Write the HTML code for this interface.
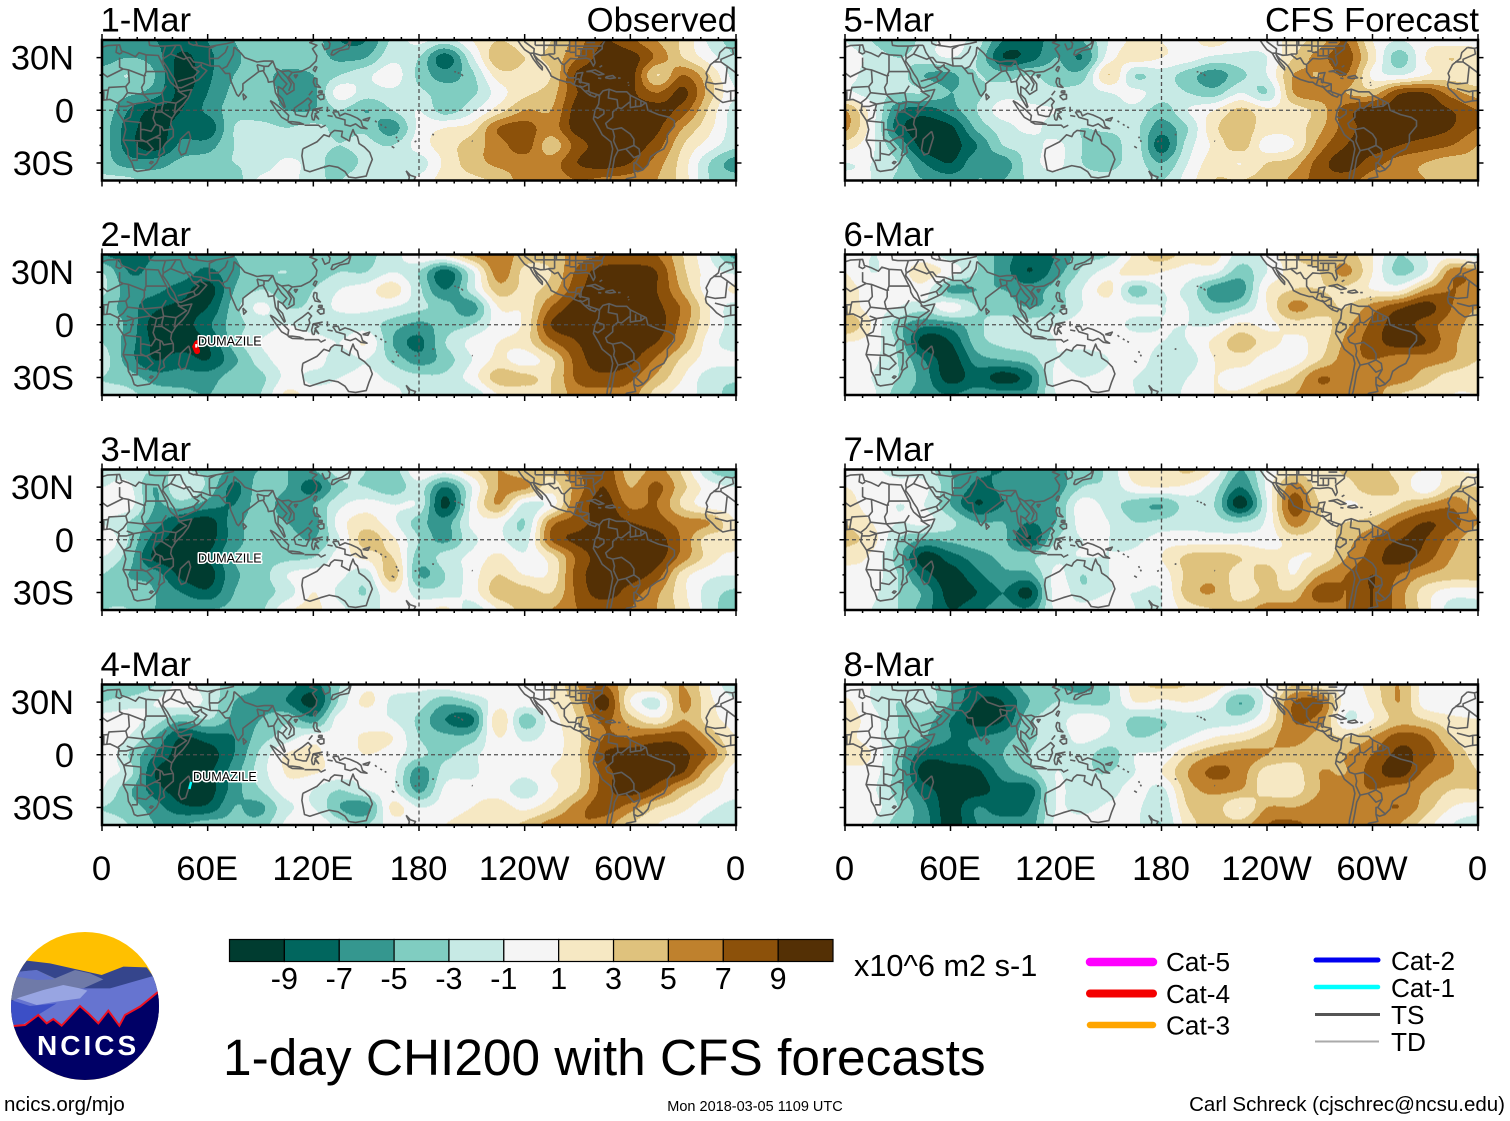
<!DOCTYPE html>
<html lang="en">
<head>
<meta charset="utf-8">
<title>1-day CHI200 with CFS forecasts</title>
<style>
html,body{margin:0;padding:0;background:#fff;width:1510px;height:1121px;overflow:hidden}
svg{display:block}
text{font-family:"Liberation Sans",sans-serif;fill:#000}
</style>
</head>
<body>
<svg id="chart" xmlns="http://www.w3.org/2000/svg" width="1510" height="1121" viewBox="0 0 1510 1121">
  <g id="panels"></g>
  <g id="colorbar"></g>
  <text x="854" y="976" font-size="30.7">x10^6 m2 s-1</text>
  <text x="223" y="1075" font-size="51.4">1-day CHI200 with CFS forecasts</text>

  <g>
    <clipPath id="logoClip"><circle cx="255" cy="258" r="222"/></clipPath>
    <g transform="translate(0 920) scale(0.33333)" clip-path="url(#logoClip)">
      <rect x="20" y="30" width="480" height="460" fill="#ffc000"/>
      <polygon points="80,122 150,130 230,148 305,165 370,140 440,142 490,210 490,330 20,330 20,200" fill="#35458c"/>
      <polygon points="60,155 110,150 165,175 225,150 270,160 310,178 250,205 160,205 60,240 20,240 20,200" fill="#6f7aa8"/>
      <polygon points="60,155 110,150 165,178 110,180 50,170" fill="#5f70c8"/>
      <polygon points="240,205 330,205 460,168 490,215 490,330 40,330 40,240 170,205" fill="#6674d0"/>
      <polygon points="50,235 130,210 190,195 240,205 262,212 240,235 170,245 110,255" fill="#98a5e2"/>
      <polygon points="25,238 90,258 170,250 70,312 25,322" fill="#3c4fc6"/>
      <polygon points="20,320 40,318 75,315 115,285 140,310 160,297 185,317 240,258 265,280 295,310 325,272 358,317 375,285 420,260 475,215 490,205 490,500 20,500" fill="#000066"/>
      <polyline points="40,318 75,315 115,285 140,310 160,297 185,317 240,258 265,280 295,310 325,272 358,317 375,285 420,260 475,215" fill="none" stroke="#ee1122" stroke-width="6"/>
    </g>
    <text x="37" y="1055" font-size="28" font-weight="bold" letter-spacing="3" style="fill:#fff">NCICS</text>
  </g>

  <a><text x="4" y="1111" font-size="20.5">ncics.org/mjo</text></a>
  <text x="755" y="1111" font-size="14.5" text-anchor="middle">Mon 2018-03-05 1109 UTC</text>
  <text x="1505" y="1111" font-size="20.5" text-anchor="end">Carl Schreck (cjschrec@ncsu.edu)</text>

  <g>
    <line x1="1090" x2="1153" y1="962" y2="962" stroke="#ff00ff" stroke-width="8.5" stroke-linecap="round"/>
    <text x="1166" y="971" font-size="26.2">Cat-5</text>
    <line x1="1090" x2="1153" y1="993.5" y2="993.5" stroke="#f40000" stroke-width="8" stroke-linecap="round"/>
    <text x="1166" y="1003" font-size="26.2">Cat-4</text>
    <line x1="1090" x2="1153" y1="1025" y2="1025" stroke="#ffa500" stroke-width="6.5" stroke-linecap="round"/>
    <text x="1166" y="1034.5" font-size="26.2">Cat-3</text>
    <line x1="1316" x2="1378" y1="960" y2="960" stroke="#0000f0" stroke-width="5" stroke-linecap="round"/>
    <text x="1391" y="970" font-size="26.2">Cat-2</text>
    <line x1="1316" x2="1378" y1="987" y2="987" stroke="#00ffff" stroke-width="4.5" stroke-linecap="round"/>
    <text x="1391" y="997" font-size="26.2">Cat-1</text>
    <line x1="1315" x2="1380" y1="1014.5" y2="1014.5" stroke="#555" stroke-width="3"/>
    <text x="1391" y="1024" font-size="26.2">TS</text>
    <line x1="1315" x2="1379" y1="1041.5" y2="1041.5" stroke="#aaa" stroke-width="2"/>
    <text x="1391" y="1051" font-size="26.2">TD</text>
  </g>
</svg>

<script>
// ---- Data ----
const gridLons = [0,15,30,45,60,75,90,105,120,135,150,165,180,195,210,225,240,255,270,285,300,315,330,345,360];
const gridLats = [40,30,20,10,0,-10,-20,-30,-40];
const contourLevels = [-9,-7,-5,-3,-1,1,3,5,7,9];
const bandColors = ['#003c30','#01665e','#35978f','#80cdc1','#c7eae5','#f5f5f5','#f6e8c3','#dfc27d','#bf812d','#8c510a','#543005'];
const lonTickValues = [0,60,120,180,240,300,360];
const lonTickLabels = ['0','60E','120E','180','120W','60W','0'];
const latTickValues = [30,0,-30];
const latTickLabels = ['30N','0','30S'];
const panelDates = ['1-Mar','2-Mar','3-Mar','4-Mar','5-Mar','6-Mar','7-Mar','8-Mar'];

const chiMar1 = [
[-6,-7,-7,-8,-7,-5,-4,-4,-4,-7,-7,-2.5,-0.5,-2,1,3,2,3,6,9,7.5,5,2.5,-1.5,-4],
[-6,-5,-6,-9.5,-7.5,-5.5,-4,-4,-4,-5.5,-5,-1.5,-3,-8,-1.5,4.5,3,3.5,7,10,10,6.5,3,0,-3],
[-4,-3,-5,-10,-7.5,-5,-4.5,-5.5,-5,-3,-1.5,0,-3.5,-6,-3.5,2,2.5,3,9.5,10,10,3,7,3,-2],
[-4,-4.5,-6,-9.5,-7,-4.5,-4,-5.5,-5.5,0,-2,-1.5,-2.5,-4,-3.5,0,2.5,4,9,10,9.5,7,9.5,4,-1],
[-3.5,-7,-9.5,-9,-6.5,-4,-4,-5,-5,-3,-5,-3,-1,-4,-1.5,2,5,5,10,10,10,10,8,2.5,-2],
[-4,-8,-10,-8,-8.5,-3,-2.5,-3,-2.5,-3.5,-3.5,-6,-0.5,1,2,7,8,6,10,10,10,9.5,5,1.5,-2],
[-4,-8,-10,-6.5,-6,-3,-2.5,-2.5,-2.5,-3,-2.5,-3,0,2,4,6,8,4,8,10,10,8,3,0,-2.5],
[-4,-6,-6,-4.5,-4,-3,-2.5,-0.5,-2,-4,-2.5,-2,-2,1.5,4,5.5,6,6,9,10,9,6,2,-3,-6],
[-2.5,-2.5,-4,-4,-4,-4,-0.5,0,-2.5,-3,-1.5,-2,-0.5,2,2.5,3.5,6,6,7,6.5,6,5,2,-3,-4]
];
const chiMar2 = [
[-7,-8,-7,-7,-6,-5,-4,-4,-4,-4,-3.5,-2,1,1.5,5,6.5,4,4,6,7,7.5,7,3,-1,-6],
[-3,-7,-6.5,-6,-7.5,-5.5,-3.5,-3,-4,-3,-3,-1,-3,-8,-1.5,6,2.5,3,7.5,10,10,9,3.5,0,-1.5],
[-2.5,-6,-6.5,-8,-10,-5,-3,-4,-3,-1,0,2,-2.5,-7,-2,4,2.5,4,8.5,10,10,9,4.5,0,1.5],
[-4,-6,-8.5,-9.5,-9,-4,-0.5,-3,-2.5,-0.5,-0.5,-1,-2.5,-4,-6,1,1.5,7,10,10,10,9.5,6.5,1,-2],
[-4,-5.5,-10,-10,-7.5,-4,-2,-1,-2,-2.5,-2,-4,-5.5,-4,-3,0,1.5,9,10,10,10,10,6,1,-2],
[-3,-6,-9.5,-10,-9,-4,-1,0,0,-1,1,-5,-7.5,-3,-0.5,1,2,6.5,9,10,10,9,5,0,-2],
[-2,-6,-9,-8,-9,-5.5,-2,0,0,-2,-1,-3.5,-6,-4,-1,1.5,0,2.5,8,10,9.5,6.5,2.5,0,-0.5],
[-3,-4,-6,-6,-6,-4,-3.5,-0.5,-1.5,-1,-0.5,-1.5,-2.5,-2.5,0,4,3.5,3,7.5,8.5,7.5,4.5,1,-2,-2.5],
[-2.5,-2.5,-4,-4.5,-5,-4,-3,1.5,0,-0.5,-1,-0.5,-2,-2,-2.5,1,2,3,6,6,6,2,0,-2,-4]
];
const chiMar3 = [
[-2,-2,-3,-3,-3.5,-5.5,-5,-5,-5,-2,-3,-4,1,0,2.5,5,3.5,3.5,7,8.5,4,5.5,2.5,-3,-5],
[-1,-0.5,-5,-1,-3.5,-7.5,-4,-5,-8,-3.5,-3,-4.5,-2,-7,-1,5,5.5,2,6,9,5,7.5,3.5,0,-1],
[1,0,-5,-4,-6,-7,-4,-6,-5,-1.5,0,-1,-1.5,-9.5,-0.5,5,-1.5,0,7,10,6.5,7,2.5,0,0],
[-1,-3,-6,-9,-10,-6,-4,-5,-6,0,2,-0.5,-4,-6,-0.5,0,-3,6,8,10,9,8,6,5,1],
[1,-3,-8,-10,-10,-6,-4,-4,-5,-1,4,1.5,-3,-5.5,-1.5,-0.5,-2,7,9.5,10,10,10,6.5,2,3],
[-1,-4,-9.5,-10,-9,-5,-4,-3.5,-3,0,1.5,3,-4,-2,-0.5,1.5,-0.5,2,7.5,10,10,10,6,2,0],
[-3,-5,-6,-9.5,-10,-5.5,-4,-1,0,-0.5,-2,4,-5,-3,0,3,1,1.5,8,10,10,8,2,-0.5,-1],
[-3.5,-4,-5,-7,-8.5,-5,-4,-2,1,-1.5,-3,1,-2,-2,0,4,4,3,7.5,10,8,5.5,1.5,-2,-3.5],
[-3,-3,-5,-5,-5,-4.5,-3.5,0.5,1.5,-0.5,-2,0,0,1.5,-2,1,4,5,7,7.5,7,5,2,-2,-4.5]
];
const chiMar4 = [
[-3,-5,-3,-0.5,-2,-4,-5,-6,-8,-3,0.5,0,-0.5,0,1,0.5,0,1,5,7,3,3,5,1,-3],
[-3,-2,-1,0,-1.5,-5,-5.5,-7,-9.5,-2.5,1.5,-1.5,-2,-4.5,-3,0,0,1,4,10,1,-1.5,5.5,1.5,-0.5],
[0,0,-2,-4.5,-3,-5.5,-5,-3.5,-6,0,-0.5,-1,-3.5,-7,-7.5,2.5,-4,0,3,7.5,4,1.5,5,2,0],
[0,-1,-5,-9,-8,-7,-4,-2,0,-0.5,1.5,1,-3,-4.5,-4,1,-1.5,0,2.5,7,7,8,8,4.5,1],
[1,-3,-7,-10,-10,-7,-2.5,1.2,1.5,0,1,0,-2.5,-3.5,-1.5,0,0,0.5,2.5,9,10,10,9.5,6.5,1.5],
[-0.5,-2,-9,-10,-9.5,-6,-2,1.2,1.2,0,-0.5,-0.5,-6,-2,-1.5,0.5,-0.5,1,2.5,8,10,10,9,3.5,0],
[-1,-4.5,-8,-10,-10,-6,-3,0,-1,-3,-1,-0.5,-5.5,-0.5,0,0,-2,0.5,3,8,10,8,4,1.5,0],
[-3,-4,-6,-8.5,-8.5,-5,-5.5,-1.5,-1,-5,-6,1.5,-1,0,1,2,0.5,2.5,6,8,6,3,1.5,-0.5,-2],
[-2,-3,-5,-5,-4,-4.5,-4,-0.5,1,-2,-3,0,0,1,2,2,3.5,6,7,6,3,1,0,-2,-3]
];
const chiMar5 = [
[-1,-3,-5,-2,-0.5,-2,-7,-8,-6,-5,-1,1.5,1,0.5,2,0,0,2,4,7,1,-1,0.5,0,1],
[0,-1.5,-3,-2,-1,-3,-9,-8,-5,-7,0,2,1,0,-1.5,-1.5,-1,3,6,8,2,-4,1,3,1],
[0,-2,-2,-5,-5.5,-3,-4,-3,-4,-4,3,-3,-2,-4,-6,-3.5,-1,5,5,7,0.5,-1,1,2,1.5],
[-0.5,-2,-3,-3,-5,-3.5,-2,-2,-2.5,-2,-1,-0.5,-2,-3,-4,-1,-3,5,6,5,4,8.5,9,6,4],
[5,0,-6.5,-8,-6,-3,0,-0.5,-1,-2,-2,-1.5,-4,-1,1,3.5,1.5,2,4,8,10,9.5,10,9,7],
[5.5,0,-8,-10,-9.5,-4.5,-2,-0.5,-2,-3,-2.5,-2.5,-6,-3,2.5,4,2,2,4.5,8,10,10,10,9,7],
[2,-0.5,-5,-10,-10,-7,-3,-2,-0.5,-3,-4.5,-2,-8,-2,1.5,4,0,1,6,9,10,9,8,7,5],
[-1,-1,-3,-7,-9,-5.5,-6,-2,-0.5,-3,-4,-2,-5,-1,2,1,3,4,8,10,8,6,5,4,4.5],
[-0.5,-1,-3.5,-5,-6,-5,-5,-2.5,-1.5,-2,-2,-1,-3,0,3,3,4,5.5,8,8,6,5.5,5,4,4]
];
const chiMar6 = [
[0,-1,-0.5,0,-2,-3,-6,-8,-7,-4,-3,1.5,4,2,2,-2,-0.5,3,4,4,1,-3,-1,0,-2],
[1,-1,0,2,0,-3,-6,-9,-6,-2.5,0,2,1,0,-0.5,-4,-1,2,3,5.5,1,-3.5,-1,6,6],
[2,0,-0.5,0,-5.5,-5,-5,-6,-4,-1,1.5,-4,-1,-1.5,-6,-6,1,3,3,2.5,1,0.5,5,7,6],
[2.5,0,-1,-2,0,-3,-4,-5,-4,-1,0,-0.5,-1,-1,-4,-3,1,5.5,4,3,6,8.5,10,7,5],
[5,1,-4,-6.5,-6,-3.5,-2,-2,-1,0,0,-1.5,-1,-1,-1,1.5,0.5,2,2,4.5,7.5,10,8,6,4],
[1,0,-3.5,-10,-9,-4,-2.5,-2,-1,0,0,0,-1,-1,1.5,4,2,0.5,2,5.5,8,10,9,5.5,4],
[-0.5,-0.5,-3,-7,-10,-6,-5,-4,-1,-2.5,-1,0,-2,-2,1,2,0,0,3,6,7,6,6,5,3],
[-0.5,-1,-3,-6,-10,-8,-10,-7.5,-0.5,-1,-0.5,-1,-2,-1,1,0,1,3,7,6,5.5,6,4,2,1.5],
[0,-0.5,-4,-6,-7,-6,-6,-6,-1,0,0,-1,-2,-0.5,1,1.5,4,5,6,6,6,3,2,1,1]
];
const chiMar7 = [
[-0.5,-0.5,-2,-2,-5,-6.5,-7,-5,-5.5,-4,-2.5,2,1.5,3.5,0.5,-5,-0.5,2,2,3.5,4.5,2,1,1,0.5],
[1,0,0,-0.5,-4.5,-7.5,-6.5,-6,-6,-3,-2.5,0.5,1,0.5,-2,-7,-0.5,6,2,2,4.5,3,-0.5,3,3],
[2,0,-1,-1,-5,-9,-7,-6,-5,0,-2,-4,-5,-2,-3,-10,-1,8,3,1,1.5,3,5,6.5,4],
[3,1,-1,-0.5,-2.5,-5,-5,-7,-5,0,-1,-3,-2.5,-1.5,-2,-3,-0.5,6,3,3,4,7,9,8,5],
[3.5,2,-3,-5,-4.5,-4,-4.5,-9,-3,-1,-1,-1.5,0,0,0,0,0,2,2,4,7,9,9,6,3.5],
[2,0.5,-4,-10,-8,-6,-4.5,-3.5,-1.5,-1,-1,-0.5,1,3.5,4,3,2,1,1.5,5,8,10,8,5,4],
[0,0,-3,-8,-10,-7.5,-5.5,-5.5,-0.5,-3,-1,0,0,3.5,4.5,2,4,1,5,7,9,7,5,4,4],
[-0.5,-0.5,-3,-5.5,-10,-9,-7,-9.5,0,-2.5,-1,-1,-1,4,5,2,3.5,3.5,8,7,9,6,2,0,0],
[0,-1,-3,-6,-9,-7.5,-6,-6.5,-0.5,0,1,-1,-1,2,3,4,6,6,6,7,9,6,2,-2,-2]
];
const chiMar8 = [
[-0.5,-1,-2,-2,-5,-8,-7,-4,-5,-6,-3,2,3.5,3,2,0,-0.5,3,2,0,2,5,0,-0.5,-0.5],
[1.5,-1,-3,-2,-5,-9,-9,-5,-3,-3.5,-3,1,0.5,1,-0.5,-5,0,7,7.5,0,1.5,5,0,-0.5,0],
[2,0,-3,-4,-7,-10,-9,-3.5,-2,0,-1,-3.5,-3,-2,-2,-2,1,7,6,-1,1,4,3,1.5,1],
[1.5,0,-3,-5,-7,-7,-6,-3.5,-2,-0.5,-1.5,-3,-2.5,-1,1,2,4,6,4,3,5,8,7,3,1],
[2,1,-4,-8,-8,-7,-5,-3,-1.5,-2,-4,-1,-0.5,3,5,6,5,4,4,5,7,9.5,8,5,2],
[0.5,0,-4,-10,-10,-9.5,-6,-4,-1,-2.5,-3,-1,1,5,7.5,6,2,2,5,5,8,10,6.5,5,3],
[0.5,-0.5,-4,-8,-10,-10,-8,-8,-1,-2.5,-2,0,-1.5,4,5.5,5,2,2,5,6,7,6,5,3,3],
[1,0,-3,-6.5,-10,-7,-8,-7,-1,-2,-0.5,-0.5,-2.5,3,4,1,5,5,6,6,6,7,4,1,0],
[0.5,-1,-4,-6,-10,-7,-6,-6,-0.5,0.5,1,-0.5,-3,2,4,4,7,7.5,6,5,7,5,2,-1,-2]
];
const panelGrids = [chiMar1,chiMar2,chiMar3,chiMar4,chiMar5,chiMar6,chiMar7,chiMar8];

// Coastlines, lon/lat degrees
const coastLines = [
[[-6,35.8],[-2,35.2],[3,36.8],[10,37.2],[11,33.8],[15,32.4],[19,30.5],[21,32.8],[25,31.6],[32,31.2],[32.6,29.8],[34,27],[35.5,24],[37,21],[37.5,18.5],[39,15.8],[43,12.4],[44,10.5],[51,11.8],[49,7],[46,3],[42,-1],[39.5,-5],[39,-8],[40.5,-11],[40.5,-15],[36,-19],[34.8,-21],[35.5,-24],[32.8,-26],[31,-30],[27,-33.8],[20,-34.8],[18.3,-34],[17,-30],[15,-26.5],[14.5,-22],[12,-17],[13.5,-11],[12.3,-6],[9,-1],[9.7,3.5],[8,4.5],[4.5,6.2],[1,5.8],[-4,5.2],[-7.5,4.4],[-11,6.8],[-13.5,9.5],[-16.8,12.5],[-17.3,14.7],[-16.2,19],[-17,21],[-14.5,26],[-10,29.5],[-9.2,32.8],[-6,35.8]],
[[49.3,-12],[50.3,-15.5],[47.5,-24.5],[45,-25.5],[43.5,-22.5],[44.5,-16.5],[49.3,-12]],
[[34.8,29.5],[34.5,28],[37,24.5],[39,21],[41,18],[43,13],[45,12.8],[52,16],[55,17.5],[59.5,22.5],[56.5,24.5],[56.3,26],[54,24.2],[51.5,24.5],[50,27],[48,29.8],[48.5,30],[50,30],[52,27.5],[56.5,27],[61.5,25.2],[66.5,25.2],[68,23.5],[70,21],[72.5,21],[73,17],[74.8,13],[76.5,9],[77.5,8],[80,11.5],[80,15],[82.5,17],[86.5,20],[89,22],[91.5,22.5],[94,18],[94.5,16],[97.5,16.5],[98.5,10],[100.5,6.5],[103.5,1.5],[104,2],[102.5,6.5],[100,9],[100,13.5],[102.5,12],[105,9],[109,11.5],[109,15],[106,19],[108,21.5],[113,22],[118,24.5],[121.5,28],[122,31],[119.5,35],[122,37],[118,38.5],[121,40]],
[[34.8,29.5],[34.5,31.5],[36,36.5],[30,36.5],[27,37],[26.5,40]],
[[49,40],[49.5,38],[52,37],[54,37.5],[53,40]],
[[125,38],[126.5,34.5],[129,35.5],[129.5,38],[128,40]],
[[130,31.5],[131,34],[136,35.5],[140,38],[141,41]],
[[130,31.5],[131.5,31.5],[135,34],[140,35],[141,38],[141.5,41]],
[[121,25],[120,23],[121,22],[122,24.5],[121,25]],
[[109,20],[111,20],[110,18.5],[109,20]],
[[80,9.5],[82,7.5],[80.5,6],[80,9.5]],
[[120.5,18.5],[122,18],[122,15],[124,13],[121,13.5],[120,16],[120.5,18.5]],
[[122,8],[124,9],[126,9],[126,6.5],[124,6],[122,8]],
[[123,11],[125,11],[125,10],[123,10],[123,11]],
[[117.5,8.5],[119.5,11]],
[[109,1],[111,2.5],[114,4.5],[117,7],[119,5],[117.5,3],[118,1],[116,-3.5],[114,-3.5],[110,-2.5],[109,1]],
[[95.5,5.5],[98,4],[103,0],[106,-3],[105.5,-6],[102,-4],[99,0],[95.5,5.5]],
[[105.5,-6.5],[108,-6.5],[112,-7],[114.5,-8],[108,-7.8],[105.5,-6.5]],
[[115,-8.5],[119,-8.5],[123,-8.5],[124,-9.5]],
[[124,-10],[127,-8.5]],
[[119.5,-5.5],[119,-3],[120,0.5],[125,1.5],[121,0],[123,-1],[121,-2],[123,-5],[121,-3],[120.5,-5.5],[119.5,-5.5]],
[[128,2],[128,-1]],
[[128,-3],[131,-3.5]],
[[131,-1],[134,-0.8],[135,-3.2],[138,-1.8],[141,-2.7],[145,-4.5],[147,-6],[148,-9],[150.5,-10.5],[147,-10],[144,-7.8],[141,-9],[138,-8.2],[138,-5.5],[133,-4],[132,-2.5],[131,-1]],
[[148,-5.5],[152,-4.2],[151,-6],[148,-5.5]],
[[155,-6],[156,-6.8]],[[158,-8],[159,-8.6]],[[160.5,-9.5],[161.5,-10]],
[[167,-15],[167.5,-16]],[[168,-17],[168.5,-18]],
[[164.5,-20.5],[166,-21.5]],
[[177.5,-18],[178.5,-17.5]],
[[172.7,-34.5],[175,-37],[178,-38],[177,-40],[176,-41]],
[[172.7,-34.5],[174.5,-38],[174,-41]],
[[114,-22],[113.5,-26],[115,-34],[118,-35],[124,-33],[129,-31.5],[134,-32.5],[138,-35],[140,-38],[144,-38.5],[150,-37.5],[151.5,-33],[153.5,-28],[152,-24],[149,-21],[146,-19],[145,-15],[143.5,-13.5],[142.5,-11],[141,-15],[140.5,-17.5],[136,-15],[136.5,-12],[132,-11.5],[130,-13],[129,-15],[126,-14],[122,-18],[117,-20.5],[114,-22]],
[[-160,22],[-159,21.8]],[[-158,21.4],[-157,21]],[[-156,20.6],[-155,19.5]],
[[-172.5,-13.7],[-171.5,-14]],[[-150,-17.5],[-149.5,-17.7]],
[[-124,40],[-122,37],[-120,34.5],[-117,32.5],[-115,29],[-112,25],[-110,23],[-110,24.5],[-113,28],[-114.8,31.7],[-112.5,29],[-110,27],[-108,25],[-105.5,21],[-105,19.5],[-101,17.5],[-96,16],[-94,16],[-92,14.5],[-88,13],[-85.5,10.5],[-83,8.5],[-80,7.5],[-79,9],[-77.5,8],[-78,3.5],[-80,0],[-81,-5],[-78,-10],[-76,-14],[-71,-18],[-70,-22],[-71.5,-30],[-73,-37],[-73.5,-41]],
[[-77.5,8.5],[-75.5,11],[-72,12],[-68,10.5],[-62,10.5],[-60,8.5],[-55,6],[-51,4],[-50,0],[-44,-2.5],[-38,-4],[-35,-6],[-35,-9],[-39,-14],[-39,-18],[-41,-22],[-45,-24],[-48.5,-26.5],[-50,-31],[-53,-34],[-56,-35],[-58,-34],[-57,-38],[-62,-39],[-64,-41]],
[[-77.5,8.5],[-80,9.3],[-83.5,10.5],[-83.5,15],[-88,16],[-88,18.5],[-87,21.5],[-90.5,21],[-91,18.5],[-95,18.5],[-97.5,22],[-97.5,26],[-94,29.5],[-90,29.2],[-85,29.7],[-83,29],[-81,25.2],[-80,27],[-81,31],[-76,35],[-76,37],[-74,40.5]],
[[-85,22],[-80,23],[-75,20.5],[-78,20],[-82,22],[-85,22]],
[[-74,19],[-70,19.8],[-68.5,18.5],[-71.5,18],[-74,18.5],[-74,19]],
[[-78.3,18.3],[-76.5,18]],[[-67,18.3],[-65.5,18.3]],[[-61.5,16],[-61,15.5]],[[-61,14.5],[-60.8,14]],[[-77.5,24.5],[-76,25.5]]
];
const borderLines = [
[[25,31.6],[25,22]],[[25,22],[37,22]],[[25,20],[24,19.5],[15,23],[12,23.5]],[[25,22],[24,19.5],[24,15.7]],[[24,15.7],[22.5,13],[23.5,9]],
[[15,23],[15.5,16],[13.5,13.5],[4,13],[3.5,11.5]],[[12,23.5],[3,19],[-5,25],[-8.5,27.5],[-13,27.6]],[[-5,25],[-6,15.5],[-12,15],[-16.5,16]],
[[13.5,13.5],[14.5,10],[12,6.5],[9,4.2]],[[3.5,11.5],[2.7,6.3]],[[-12,12.3],[-5,10.5],[-3,11],[3.5,11.5]],[[-3,11],[-3,5]],[[1,11],[1,6]],
[[14,5],[18,3.5],[27,5],[31,3.5],[30,-1],[29,-4.5],[30.5,-8]],[[14.5,10],[23.5,9],[27.5,5]],[[36.5,14],[34,10],[35,5],[42,4],[48,8],[43,11]],[[23.5,9],[34,10]],
[[35,5],[34,1],[34,-1],[39.5,-4.5]],[[31,3.5],[35,4.5]],[[30,-1],[34,-1]],[[30.5,-8],[34,-9.5],[35,-11.5],[40.5,-10.5]],[[42,4],[41,-1.5]],
[[9.7,2.2],[14,2.2],[18,3.5],[16,-4],[12.3,-6]],[[12.3,-6],[22,-7],[22,-11],[24,-11],[28,-12],[30.5,-8]],[[12,-17],[23.5,-17.5],[25,-18]],
[[22,-11],[22,-16.5],[25,-18],[30,-15.5],[33,-14],[33,-9.5]],[[30,-15.5],[33,-16],[33,-22],[32,-26]],[[20,-18],[20,-24.5],[25,-25.5],[29,-22],[25.5,-18]],
[[20,-24.5],[20,-28.5],[17,-28.5]],[[28,-29],[29,-29.5],[28,-30.5],[27,-30],[28,-29]],[[-2,35],[-1.5,32],[-8.5,29],[-8.5,27.5]],[[8.5,37],[8,33],[10,32],[11.5,33]],[[10,30],[10,24.5],[12,23.5]],
[[48,30],[46,33],[44.5,37]],[[36,36.5],[42,37],[44.5,37]],[[39,32],[42,37]],[[35,29.5],[39,32],[46.5,29],[48,29.8]],[[43,16.5],[52,19],[55,22],[52,24]],[[52,19],[53,16.8]],
[[61.5,25.2],[61,29.5],[61,35],[65,37],[71,38]],[[61,29.5],[66,29.5],[70,33],[71.5,36.5]],[[68,23.5],[71,25],[74.5,31.5],[75,36]],[[75,36],[79,32.5],[81,30],[88,27.5],[92,28],[97,28]],
[[88,26],[89,22]],[[92,22.5],[92,25],[88,26]],[[92,25],[94.5,25],[97,28],[98.5,24],[100,21],[97.5,16.5]],[[100,21],[102,18],[105,15],[102.5,12]],[[102,22],[105,19],[107.5,15],[106,11]],[[98.5,24],[102,22],[106,22.5],[108,21.5]],[[53,37],[60,36],[65,37],[71,38],[75,39]],
[[-117,32.5],[-114.8,32.5],[-111,31.3],[-108,31.5],[-106.5,31.8],[-103,29],[-101,29.8],[-99,26.5],[-97.5,26]],
[[-120,42],[-120,39],[-114.6,35],[-114.8,32.5]],[[-114,42],[-114,37]],[[-109,41],[-109,31.5]],[[-103,41],[-103,32]],[[-102,40],[-102,37]],[[-94.5,40],[-94.5,33.5]],[[-91,40],[-91,31]],[[-88,35],[-88,30.5]],[[-85,35],[-85,31]],[[-81,35],[-81,32]],
[[-114,37],[-94.6,37]],[[-94.6,36.5],[-76,36.5]],[[-103,32],[-106.5,32]],[[-94.5,33],[-91,33]],[[-91.5,31],[-85,31]],[[-90,35],[-81,35]],[[-109,40],[-75,40]],[[-85,38.5],[-80,38.5]],[[-97,33.8],[-94.5,33.6]],
[[-92,14.5],[-91,17.5],[-89,18]],[[-89,18],[-89,16],[-88,15.5]],[[-89,14],[-87,13]],[[-87,13.2],[-83.5,15]],[[-85.5,11],[-83.5,11]],[[-83,8.5],[-82.5,9.5]],
[[-72,12],[-72.5,7],[-67.5,6],[-67,1.5]],[[-67,1.5],[-70,-1],[-70,-4],[-74,-7.5],[-73,-10],[-70,-11],[-69,-15],[-69.5,-17.5]],[[-79,1.5],[-75,0],[-75,-2],[-78.5,-4.5],[-80.5,-3.5]],
[[-60,8.5],[-60,5],[-65,1],[-67,1.5]],[[-60,5],[-60,1.5],[-57,2],[-54,2.3],[-51.5,4.2]],[[-57,2],[-57,6]],[[-54,2.3],[-54,5.8]],
[[-70,-11],[-65,-10],[-60,-13.5],[-58,-16.5],[-58,-20],[-62.5,-22],[-67,-23],[-69.5,-17.5]],[[-58,-20],[-55,-22],[-54.5,-25.5],[-58,-27],[-62.5,-22]],[[-67,-23],[-69,-27],[-70,-33],[-71,-38],[-72,-41]],[[-58,-34],[-58,-30],[-57,-30],[-53,-33.5]],[[-54.5,-25.5],[-57,-30]]
];

// Named storm annotations: panel index, label anchor
const stormNames = ['DUMAZILE','DUMAZILE','DUMAZILE'];
const stormPanels = [1,2,3];
const stormLabelLons = [54.5,54.5,51.7];
const stormLabelLats = [-11.7,-12.9,-15];

// ---- Layout ----
const SVGNS = 'http://www.w3.org/2000/svg';
const colX = [102,845];
const colW = [634,633];
const rowY = [40,254.5,469.5,684.5];
const panelH = 140.5;
const latTop = 40, latBottom = -40;

function el(tag, parent){
  const e = document.createElementNS(SVGNS, tag);
  parent.appendChild(e);
  return e;
}
function xScale(x0,w){ return lon => x0 + lon/360*w; }
function yScale(y0,h){ return lat => y0 + (latTop-lat)/(latTop-latBottom)*h; }

function cr(p0,p1,p2,p3,t){
  return 0.5*((2*p1)+(-p0+p2)*t+(2*p0-5*p1+4*p2-p3)*t*t+(-p0+3*p1-3*p2+p3)*t*t*t);
}
function fieldAt(grid,lon,lat){
  const dLon = gridLons[1]-gridLons[0], dLat = gridLats[0]-gridLats[1];
  const nC = gridLons.length, nR = gridLats.length;
  const fx = Math.min(Math.max((lon-gridLons[0])/dLon,0),nC-1.0001);
  const fy = Math.min(Math.max((gridLats[0]-lat)/dLat,0),nR-1.0001);
  const ci = Math.floor(fx), ri = Math.floor(fy);
  const tx = fx-ci, ty = fy-ri;
  const col = []; 
  for(let k=-1;k<=2;k++){
    const r = grid[Math.min(Math.max(ri+k,0),nR-1)];
    col.push(cr(r[Math.max(ci-1,0)],r[ci],r[Math.min(ci+1,nC-1)],r[Math.min(ci+2,nC-1)],tx));
  }
  return cr(col[0],col[1],col[2],col[3],ty);
}
function bandOf(v){
  let b = 0;
  while(b<contourLevels.length && v>=contourLevels[b]) b++;
  return b;
}
function polyD(lines,x,y,shift){
  let d = '';
  for(const line of lines){
    line.forEach((p,i)=>{
      d += (i?'L':'M')+x(p[0]+shift).toFixed(1)+' '+y(p[1]).toFixed(1);
    });
  }
  return d;
}

const panelsRoot = document.getElementById('panels');
panelGrids.forEach((grid,pi)=>{
  const col = pi<4?0:1, row = pi%4;
  const x0 = colX[col], w = colW[col], y0 = rowY[row], h = panelH;
  const x = xScale(x0,w), y = yScale(y0,h);

  const g = el('g',panelsRoot);
  
  

  // filled contours as pixel runs per band
  const ds = bandColors.map(()=>[]);
  const W = Math.round(w), H = Math.round(h);
  for(let j=0;j<H;j++){
    const lat = latTop-(j+0.5)/h*(latTop-latBottom);
    let start = 0, cur = -1;
    for(let i=0;i<=W;i++){
      const b = i<W ? bandOf(fieldAt(grid,(i+0.5)/w*360,lat)) : -2;
      if(b!==cur){
        if(cur>=0) ds[cur].push('M'+(x0+start)+' '+(y0+j)+'h'+(i-start)+'v1h'+(start-i)+'z');
        cur = b; start = i;
      }
    }
  }
  ds.forEach((parts,b)=>{
    if(!parts.length) return;
    const p = el('path',g);
    p.setAttribute('d',parts.join(''));
    p.setAttribute('fill',bandColors[b]);
    p.setAttribute('shape-rendering','crispEdges');
    
    
  });

  // map, clipped to panel
  const clip = el('svg',g);
  clip.setAttribute('x',x0); clip.setAttribute('y',y0);
  clip.setAttribute('width',w); clip.setAttribute('height',h);
  clip.setAttribute('viewBox',x0+' '+y0+' '+w+' '+h);
  
  
  const mapD = polyD(coastLines.concat(borderLines),x,y,0)+polyD(coastLines.concat(borderLines),x,y,360);
  const map = el('path',clip);
  map.setAttribute('d',mapD);
  map.setAttribute('fill','none');
  map.setAttribute('stroke','#5e5e5e');
  map.setAttribute('stroke-width','1.6');
  map.setAttribute('stroke-linejoin','round');
  
  

  // reference lines
  const eq = el('line',g);
  eq.setAttribute('x1',x0); eq.setAttribute('x2',x0+w);
  eq.setAttribute('y1',y(0)); eq.setAttribute('y2',y(0));
  eq.setAttribute('stroke','#505050'); eq.setAttribute('stroke-width','1.3');
  eq.setAttribute('stroke-dasharray','4 3');
  
  
  const dl = el('line',g);
  dl.setAttribute('x1',x(180)); dl.setAttribute('x2',x(180));
  dl.setAttribute('y1',y0); dl.setAttribute('y2',y0+h);
  dl.setAttribute('stroke','#505050'); dl.setAttribute('stroke-width','1.3');
  dl.setAttribute('stroke-dasharray','4 3');
  
  

  // frame
  const fr = el('rect',g);
  fr.setAttribute('x',x0); fr.setAttribute('y',y0);
  fr.setAttribute('width',w); fr.setAttribute('height',h);
  fr.setAttribute('fill','none'); fr.setAttribute('stroke','#000'); fr.setAttribute('stroke-width','2.5');
  
  

  // ticks
  let t = '';
  for(let lon=0;lon<=360;lon+=10){
    const len = lon%60===0?6:3;
    t += 'M'+x(lon)+' '+y0+'v'+(-len)+'M'+x(lon)+' '+(y0+h)+'v'+len;
  }
  for(let lat=-30;lat<=30;lat+=10){
    const len = lat%30===0?5.5:2.5;
    t += 'M'+x0+' '+y(lat)+'h'+(-len)+'M'+(x0+w)+' '+y(lat)+'h'+len;
  }
  const ticks = el('path',g);
  ticks.setAttribute('d',t);
  ticks.setAttribute('stroke','#000'); ticks.setAttribute('stroke-width','1.5'); ticks.setAttribute('fill','none');
  
  

  // date label
  const dt = el('text',g);
  dt.setAttribute('x',x0-1.5); dt.setAttribute('y',y0-8.5);
  dt.setAttribute('font-size','34.7');
  dt.textContent = panelDates[pi];
  
  

  // y labels left column
  if(col===0){
    latTickValues.forEach((v,i)=>{
      const lb = el('text',g);
      lb.setAttribute('x',74); lb.setAttribute('y',y(v)+12);
      lb.setAttribute('font-size','34.4'); lb.setAttribute('text-anchor','end');
      lb.textContent = latTickLabels[i];
      
      
    });
  }
  // x labels bottom row
  if(row===3){
    lonTickValues.forEach((v,i)=>{
      const lb = el('text',g);
      lb.setAttribute('x',x(v)-0.5); lb.setAttribute('y',880);
      lb.setAttribute('font-size','34.7'); lb.setAttribute('text-anchor','middle');
      lb.textContent = lonTickLabels[i];
      
      
    });
  }
  // panel-top right headers
  if(row===0){
    const hd = el('text',g);
    hd.setAttribute('x',x0+w+1); hd.setAttribute('y',y0-8.5);
    hd.setAttribute('font-size','34.7'); hd.setAttribute('text-anchor','end');
    hd.textContent = col===0?'Observed':'CFS Forecast';
    
    
  }

  // storm tracks
  if(pi===1){
    const tr = el('path',g);
    tr.setAttribute('d','M'+x(54)+' '+y(-10.5)+'L'+x(53)+' '+y(-12.5)+'L'+x(54)+' '+y(-15));
    tr.setAttribute('fill','none'); tr.setAttribute('stroke','#f00000'); tr.setAttribute('stroke-width','6'); tr.setAttribute('stroke-linecap','round');
    
    
    const tr2 = el('path',g);
    tr2.setAttribute('d','M'+x(53.5)+' '+y(-11)+'L'+x(53.5)+' '+y(-13));
    tr2.setAttribute('fill','none'); tr2.setAttribute('stroke','#fff'); tr2.setAttribute('stroke-width','2');
    
    
  }
  if(pi===3){
    const tr = el('path',g);
    tr.setAttribute('d','M'+x(50.6)+' '+y(-15.5)+'L'+x(49.6)+' '+y(-19.5));
    tr.setAttribute('fill','none'); tr.setAttribute('stroke','#00ffff'); tr.setAttribute('stroke-width','2.5');
    
    
  }
  stormPanels.forEach((sp,i)=>{
    if(sp!==pi) return;
    const s = el('text',g);
    s.setAttribute('x',x(stormLabelLons[i])); s.setAttribute('y',y(stormLabelLats[i]));
    s.setAttribute('font-size','12.6');
    s.setAttribute('style','paint-order:stroke;stroke:#fff;stroke-width:3px;stroke-linejoin:round');
    s.textContent = stormNames[i];
    
    
  });
});

// ---- Colorbar ----
const cbRoot = document.getElementById('colorbar');
const cbX0 = 229.5, cbW = 603.5, cbY = 939.5, cbH = 22;
const cbCell = cbW/bandColors.length;
bandColors.forEach((c,i)=>{
  const r = el('rect',cbRoot);
  r.setAttribute('x',cbX0+i*cbCell); r.setAttribute('y',cbY);
  r.setAttribute('width',cbCell); r.setAttribute('height',cbH);
  r.setAttribute('fill',c); r.setAttribute('stroke','#000'); r.setAttribute('stroke-width','1.2');
  
  
});
contourLevels.forEach((v,i)=>{
  const t = el('text',cbRoot);
  t.setAttribute('x',cbX0+(i+1)*cbCell); t.setAttribute('y',989);
  t.setAttribute('font-size','30.5'); t.setAttribute('text-anchor','middle');
  t.textContent = String(v);
  
  
});
</script>
</body>
</html>
